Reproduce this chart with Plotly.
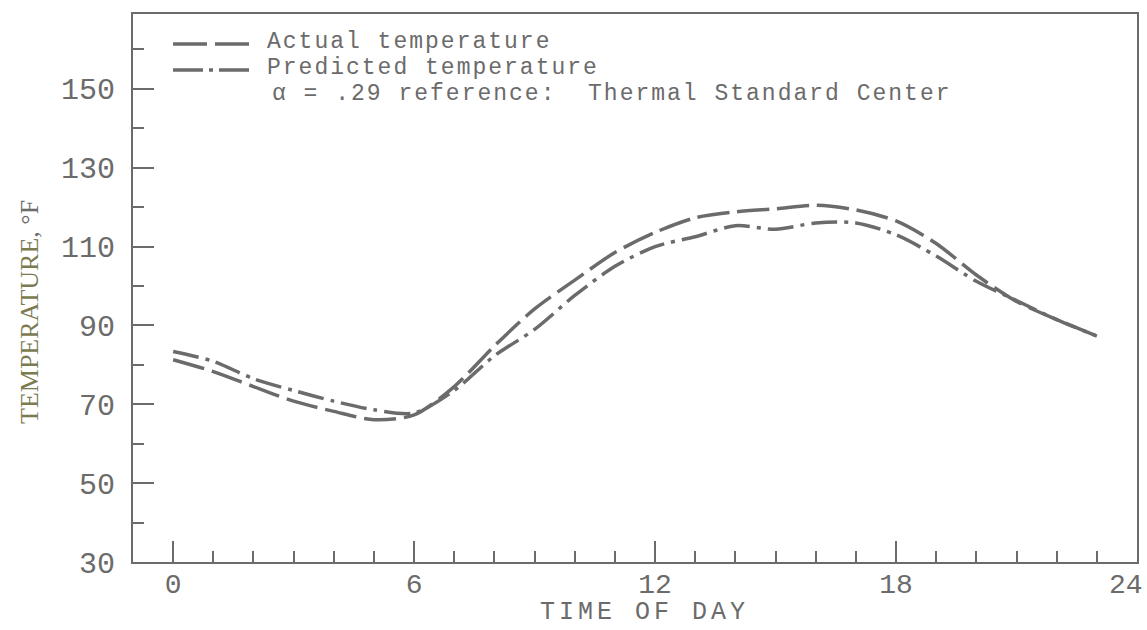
import plotly.graph_objects as go

hours = list(range(0, 24))
actual_temp = [81.3, 78.3, 74.5, 70.8, 68.2, 66.1, 67.3, 74.5, 84.8, 94.2, 101.5, 108.5,
               113.6, 117.3, 118.8, 119.6, 120.5, 119.3, 116.5, 110.8, 102.8, 96.1, 91.5, 87.3]
predicted_temp = [83.4, 80.9, 76.5, 73.5, 70.8, 68.6, 67.8, 73.5, 82.3, 89.0, 97.6, 105.0,
                  110.0, 112.5, 115.3, 114.4, 116.0, 116.0, 113.0, 107.6, 101.2, 96.3, 91.5, 87.3]
x_ticks = [0, 6, 12, 18]
x_last_label = "24"
y_ticks = [30, 50, 70, 90, 110, 130, 150]

GRAY = "#6b6b6b"
OLIVE = "#7b7b52"
MONO = "Liberation Mono, Courier New, monospace"
SERIF = "Liberation Serif, Times New Roman, serif"
DASH_ACT = "32px,8px"
DASH_PRED = "26px,7px,4px,7px"

fig = go.Figure()
fig.add_trace(go.Scatter(x=hours, y=actual_temp, mode="lines", name="Actual temperature",
                         line=dict(color=GRAY, width=3.5, dash=DASH_ACT, shape="spline", smoothing=0.8)))
fig.add_trace(go.Scatter(x=hours, y=predicted_temp, mode="lines", name="Predicted temperature",
                         line=dict(color=GRAY, width=3.5, dash=DASH_PRED, shape="spline", smoothing=0.8)))

W, H = 1147, 630
L, R, T, B = 133, 10, 14, 68
pw = W - L - R
ph = H - T - B

def px_x(p):
    return (p - L) / pw

def px_y(p):
    return (H - B - p) / ph

# legend keys
for ypix, dash in [(44, "34px,8px"), (70, "30px,6px,4px,6px")]:
    fig.add_shape(type="line", xref="paper", yref="paper",
                  x0=px_x(173), x1=px_x(249), y0=px_y(ypix), y1=px_y(ypix),
                  line=dict(color=GRAY, width=3.5, dash=dash))

LS = "letter-spacing:2px"
legend_lines = [("Actual temperature", 265, 42),
                ("Predicted temperature", 265, 68),
                ("\u03b1 = .29 reference:  Thermal Standard Center", 270, 94)]
for txt, xp, yp in legend_lines:
    fig.add_annotation(text=f"<span style='{LS}'>{txt}</span>", xref="paper", yref="paper",
                       x=px_x(xp), y=px_y(yp),
                       xanchor="left", yanchor="middle", showarrow=False,
                       font=dict(family=MONO, size=23, color=GRAY))

# y axis title
fig.add_annotation(text=f"<span style='color:{OLIVE}'>TEMPERATURE</span>, \u00b0F",
                   xref="paper", yref="paper", x=px_x(30), y=px_y(312),
                   xanchor="center", yanchor="middle", textangle=-90, showarrow=False,
                   font=dict(family=SERIF, size=26, color=GRAY))

# x axis title
fig.add_annotation(text="<span style='letter-spacing:4px'>TIME OF DAY</span>",
                   xref="paper", yref="paper", x=px_x(644), y=px_y(612),
                   xanchor="center", yanchor="middle", showarrow=False,
                   font=dict(family=MONO, size=25, color=GRAY))

# last x tick label at the right frame edge
fig.add_annotation(text=x_last_label, xref="x", yref="paper", x=24, y=px_y(585),
                   xanchor="right", yanchor="middle", showarrow=False, xshift=8,
                   font=dict(family=MONO, size=28, color=GRAY))

fig.update_layout(
    width=W, height=H,
    margin=dict(l=L, r=R, t=T, b=B, pad=0),
    paper_bgcolor="white", plot_bgcolor="white",
    showlegend=False,
    xaxis=dict(range=[-1, 24.0], tickvals=x_ticks, ticktext=[str(v) for v in x_ticks],
               ticks="inside", ticklen=21, tickwidth=2, tickcolor=GRAY,
               minor=dict(dtick=1, tick0=0, ticks="inside", ticklen=11, tickwidth=2, tickcolor=GRAY),
               showline=True, linecolor=GRAY, linewidth=2, mirror=True,
               showgrid=False, zeroline=False, automargin=False,
               tickfont=dict(family=MONO, size=28, color=GRAY),
               ticklabelstandoff=-5),
    yaxis=dict(range=[30, 169], tickvals=y_ticks, ticktext=[str(v) for v in y_ticks],
               ticks="inside", ticklen=21, tickwidth=2, tickcolor=GRAY,
               minor=dict(dtick=10, tick0=30, ticks="inside", ticklen=11, tickwidth=2, tickcolor=GRAY),
               showline=True, linecolor=GRAY, linewidth=2, mirror=True,
               showgrid=False, zeroline=False, automargin=False,
               tickfont=dict(family=MONO, size=30, color=GRAY),
               ticklabelstandoff=10),
)

fig.write_html("out.html")
